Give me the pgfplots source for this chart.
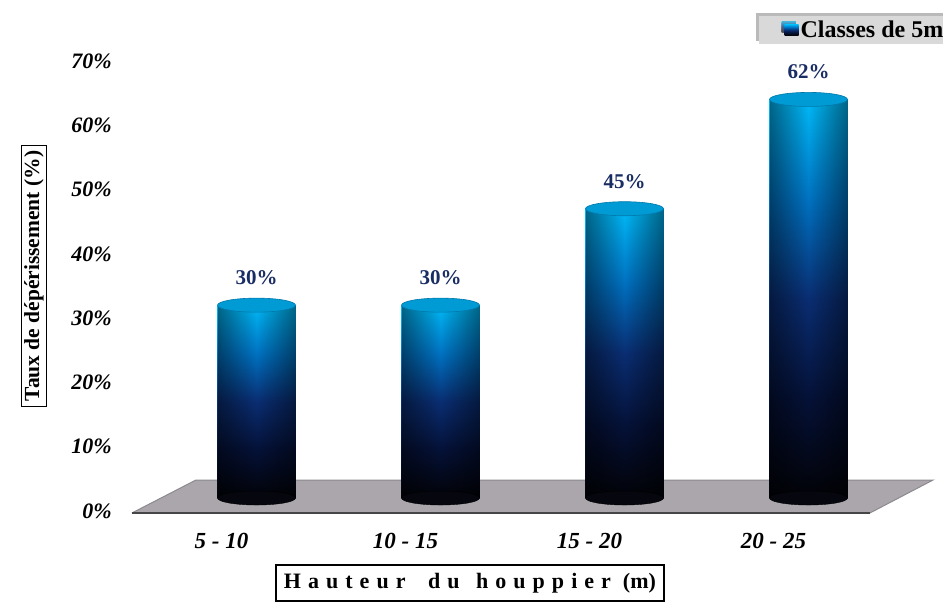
\documentclass[border=0pt]{standalone}
\usepackage{fontspec}
\setmainfont{Liberation Serif}
\usepackage{pgfplots}
\usepackage{pgfplotstable}
\pgfplotsset{compat=1.18}
\usetikzlibrary{shadows,fadings}
\definecolor{floorgray}{RGB}{170,166,172}
\definecolor{flooredge}{RGB}{140,138,142}
\definecolor{frontedge}{RGB}{70,70,72}
\definecolor{labelblue}{RGB}{25,45,100}
\definecolor{topblue}{RGB}{0,155,212}
\definecolor{topedge}{RGB}{0,120,170}
\definecolor{basecol}{RGB}{5,6,14}
\definecolor{legendgray}{RGB}{217,217,217}
\pgfdeclareverticalshading{barshade}{100bp}{rgb(0bp)=(0.012,0.012,0.03); rgb(25bp)=(0.012,0.012,0.03); rgb(37.5bp)=(0.02,0.07,0.22); rgb(50bp)=(0.04,0.18,0.45); rgb(62.5bp)=(0.0,0.45,0.76); rgb(75bp)=(0.0,0.73,0.97); rgb(100bp)=(0.0,0.73,0.97)}
\tikzfading[name=cylfade, left color=transparent!55, right color=transparent!55, middle color=transparent!100]
\pgfplotstableread{
x y
0 30
1 30
2 45
3 62
}\data
\pgfplotsset{
  cylbar/.style={ybar, bar width=78pt, bar shift=0pt, draw=none, shade, shading=barshade},
  cylside/.style={ybar, bar width=78pt, bar shift=0pt, draw=none, fill=black, path fading=cylfade, forget plot},
}
\begin{document}
\begin{tikzpicture}
\useasboundingbox (0,0) rectangle (943pt,603pt);
\begin{axis}[
  at={(164.5pt,105pt)}, anchor=south west,
  scale only axis, width=736pt, height=450pt,
  xmin=-0.5, xmax=3.5, ymin=0, ymax=70,
  clip=false,
  axis line style={draw=none}, tick style={draw=none},
  /pgf/number format/assume math mode=true,
  xtick={0,1,2,3},
  xticklabels={5 - 10, 10 - 15, 15 - 20, 20 - 25},
  ytick={0,10,20,30,40,50,60,70},
  yticklabel={\pgfmathprintnumber{\tick}\%},
  yticklabel style={font=\fontsize{22}{24}\selectfont\bfseries\itshape, anchor=east, inner sep=0pt, xshift=-52.5pt, yshift=-13pt},
  xticklabel style={font=\fontsize{23}{24}\selectfont\bfseries\itshape, anchor=north, inner sep=0pt, yshift=-35pt, xshift=-35pt},
  ylabel={Taux de dépérissement (\%)},
  ylabel style={at={(axis description cs:-0.1773,0.4933)}, anchor=center, draw, line width=1.3pt, font=\fontsize{21.5}{24}\selectfont\bfseries, inner xsep=5pt, inner ysep=3pt},
  xlabel={{\addfontfeatures{LetterSpace=32}Hauteur\hspace{10pt} du\hspace{4pt} houppier}\hspace{12pt}(m)},
  xlabel style={at={(axis description cs:0.415,-0.189)}, anchor=center, draw, line width=1.3pt, font=\fontsize{22}{24}\selectfont\bfseries, inner xsep=8pt, inner ysep=8pt},
  legend style={at={(axis description cs:1.0965,1.072)}, anchor=north east, fill=legendgray, draw=none,
    drop shadow={shadow xshift=-3pt, shadow yshift=3pt, fill=black!45, opacity=0.6},
    font=\fontsize{24}{26}\selectfont\bfseries, inner xsep=26pt, inner ysep=3pt},
  legend image code/.code={\path[shade, shading=barshade] (0pt,-5.5pt) rectangle (14pt,5.5pt);},
]
% floor
\addplot[fill=floorgray, draw=flooredge, line width=1pt, forget plot]
  coordinates {(-0.677,-2.33) (-0.329,2.80) (3.677,2.80) (3.334,-2.33) (-0.677,-2.33)};
\addplot[draw=frontedge, line width=2.5pt, forget plot]
  coordinates {(-0.677,-2.33) (3.334,-2.33)};
% bottom ellipses
\addplot[only marks, mark=*, mark size=39pt, mark options={yscale=0.18, fill=basecol, draw=none}, forget plot]
  table[x=x, y expr=0]{\data};
% bars, one path each so that each gets its own gradient
\addplot[cylbar, restrict x to domain=-0.1:0.1] table[x=x, y=y]{\data};
\addlegendentry{Classes de 5m}
\addplot[cylbar, forget plot, restrict x to domain=0.9:1.1] table[x=x, y=y]{\data};
\addplot[cylbar, forget plot, restrict x to domain=1.9:2.1] table[x=x, y=y]{\data};
\addplot[cylbar, forget plot, restrict x to domain=2.9:3.1] table[x=x, y=y]{\data};
% cylinder side darkening
\addplot[cylside, restrict x to domain=-0.1:0.1] table[x=x, y=y]{\data};
\addplot[cylside, restrict x to domain=0.9:1.1] table[x=x, y=y]{\data};
\addplot[cylside, restrict x to domain=1.9:2.1] table[x=x, y=y]{\data};
\addplot[cylside, restrict x to domain=2.9:3.1] table[x=x, y=y]{\data};
% top ellipses + labels
\addplot[only marks, mark=*, mark size=39pt, mark options={yscale=0.18, fill=topblue, draw=topedge, line width=0.6pt}, forget plot,
  point meta=y,
  nodes near coords={\pgfmathprintnumber{\pgfplotspointmeta}\%},
  nodes near coords style={font=\fontsize{21}{24}\selectfont\bfseries, text=labelblue, anchor=south, inner sep=0pt, yshift=20pt}]
  table[x=x, y=y]{\data};
\end{axis}
\end{tikzpicture}
\end{document}
